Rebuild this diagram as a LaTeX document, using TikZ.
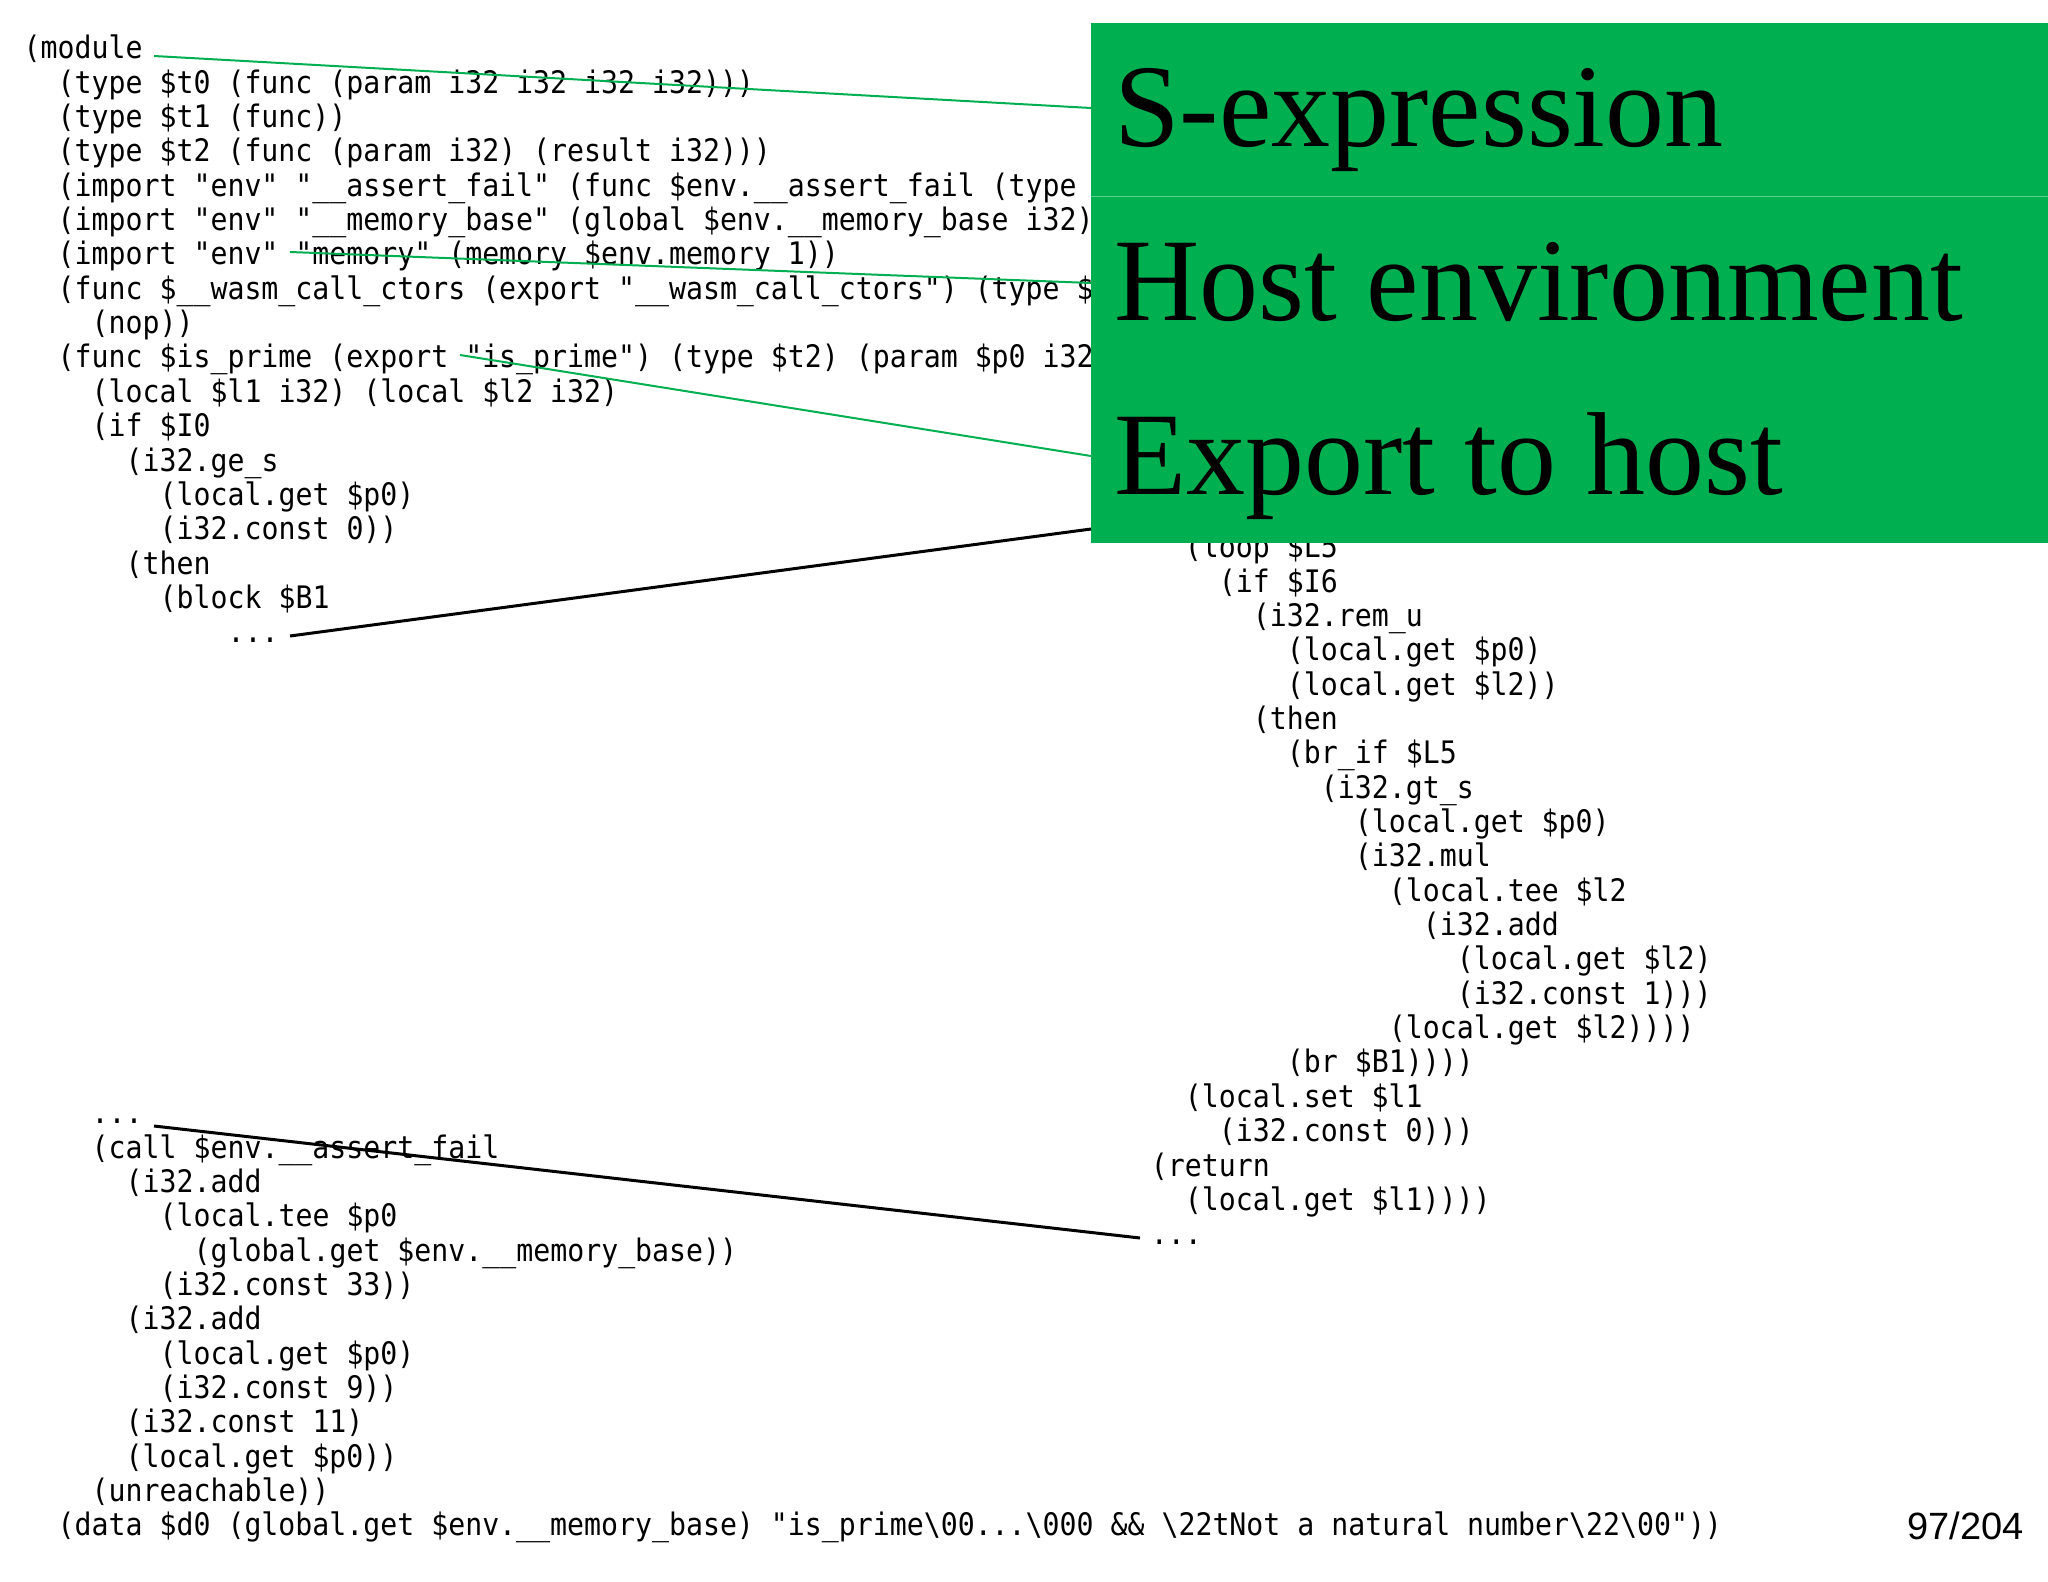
\documentclass[tikz,border=0pt]{standalone}
\usepackage{fontspec}
\newfontfamily\codefont[FakeStretch=0.91]{DejaVu Sans Mono}
\newfontfamily\serifbig{Liberation Serif}
\newfontfamily\pagefont{Liberation Sans}
\definecolor{boxgreen}{HTML}{00B050}
\definecolor{sepgreen}{HTML}{5FD08F}
\tikzset{
  code/.style={anchor=base west,inner sep=0pt,font=\codefont\fontsize{31}{37}\selectfont},
  title/.style={anchor=base west,inner sep=0pt,font=\serifbig\fontsize{118}{130}\selectfont},
  gline/.style={draw=boxgreen,line width=2pt},
  bline/.style={draw=black,line width=3pt}
}
\newcommand\codeL[4]{\node[code] (#1) at ({23.5+17*#2},{58.8+34.35*#3}) {#4};}
\newcommand\codeR[4]{\node[code] (#1) at ({1150.7+17*#2},{557.7+34.35*#3}) {#4};}
\begin{document}
\begin{tikzpicture}[x=1pt,y=-1pt]
\useasboundingbox (0,0) rectangle (2048,1582);
\codeL{a0}{0}{0}{(module}
\codeL{a1}{2}{1}{(type \$t0 (func (param i32 i32 i32 i32)))}
\codeL{a2}{2}{2}{(type \$t1 (func))}
\codeL{a3}{2}{3}{(type \$t2 (func (param i32) (result i32)))}
\codeL{a4}{2}{4}{(import "env" "\_\_assert\_fail" (func \$env.\_\_assert\_fail (type \$t0)))}
\codeL{a5}{2}{5}{(import "env" "\_\_memory\_base" (global \$env.\_\_memory\_base i32))}
\codeL{a6}{2}{6}{(import "env" "memory" (memory \$env.memory 1))}
\codeL{a7}{2}{7}{(func \$\_\_wasm\_call\_ctors (export "\_\_wasm\_call\_ctors") (type \$t1)}
\codeL{a8}{4}{8}{(nop))}
\codeL{a9}{2}{9}{(func \$is\_prime (export "is\_prime") (type \$t2) (param \$p0 i32) (result i32)}
\codeL{a10}{4}{10}{(local \$l1 i32) (local \$l2 i32)}
\codeL{a11}{4}{11}{(if \$I0}
\codeL{a12}{6}{12}{(i32.ge\_s}
\codeL{a13}{8}{13}{(local.get \$p0)}
\codeL{a14}{8}{14}{(i32.const 0))}
\codeL{a15}{6}{15}{(then}
\codeL{a16}{8}{16}{(block \$B1}
\codeL{a17}{12}{17}{...}
\codeL{a31}{4}{31}{...}
\codeL{a32}{4}{32}{(call \$env.\_\_assert\_fail}
\codeL{a33}{6}{33}{(i32.add}
\codeL{a34}{8}{34}{(local.tee \$p0}
\codeL{a35}{10}{35}{(global.get \$env.\_\_memory\_base))}
\codeL{a36}{8}{36}{(i32.const 33))}
\codeL{a37}{6}{37}{(i32.add}
\codeL{a38}{8}{38}{(local.get \$p0)}
\codeL{a39}{8}{39}{(i32.const 9))}
\codeL{a40}{6}{40}{(i32.const 11)}
\codeL{a41}{6}{41}{(local.get \$p0))}
\codeL{a42}{4}{42}{(unreachable))}
\codeL{a43}{2}{43}{(data \$d0 (global.get \$env.\_\_memory\_base) "is\_prime\textbackslash 00...\textbackslash 000 \&\& \textbackslash 22tNot a natural number\textbackslash 22\textbackslash 00"))}
\codeR{b0}{2}{0}{(loop \$L5}
\codeR{b1}{4}{1}{(if \$I6}
\codeR{b2}{6}{2}{(i32.rem\_u}
\codeR{b3}{8}{3}{(local.get \$p0)}
\codeR{b4}{8}{4}{(local.get \$l2))}
\codeR{b5}{6}{5}{(then}
\codeR{b6}{8}{6}{(br\_if \$L5}
\codeR{b7}{10}{7}{(i32.gt\_s}
\codeR{b8}{12}{8}{(local.get \$p0)}
\codeR{b9}{12}{9}{(i32.mul}
\codeR{b10}{14}{10}{(local.tee \$l2}
\codeR{b11}{16}{11}{(i32.add}
\codeR{b12}{18}{12}{(local.get \$l2)}
\codeR{b13}{18}{13}{(i32.const 1)))}
\codeR{b14}{14}{14}{(local.get \$l2))))}
\codeR{b15}{8}{15}{(br \$B1))))}
\codeR{b16}{2}{16}{(local.set \$l1}
\codeR{b17}{4}{17}{(i32.const 0)))}
\codeR{b18}{0}{18}{(return}
\codeR{b19}{2}{19}{(local.get \$l1))))}
\codeR{b20}{0}{20}{...}
% green box
\fill[boxgreen] (1091,23) rectangle (2048,543);
\draw[sepgreen,line width=1pt] (1091,196) -- (2048,196);
\node[title] (t1) at (1114,146) {S-expression};
\node[title] (t2) at (1114,320) {Host environment};
\node[title] (t3) at (1114,494) {Export to host};
% connectors
\coordinate (s1) at (154,56);   \coordinate (e1) at (1091,108);
\coordinate (s2) at (290,252);  \coordinate (e2) at (1091,283);
\coordinate (s3) at (460,355);  \coordinate (e3) at (1091,456);
\coordinate (s4) at (290,636);  \coordinate (e4) at (1091,529);
\coordinate (s5) at (154,1126); \coordinate (e5) at (1140,1238);
\draw[gline] (s1) -- (e1);
\draw[gline] (s2) -- (e2);
\draw[gline] (s3) -- (e3);
\draw[bline] (s4) -- (e4);
\draw[bline] (s5) -- (e5);
\node[anchor=base east,inner sep=0pt,font=\pagefont\fontsize{38}{44}\selectfont] (pg) at (2024,1539) {97/204};
\end{tikzpicture}
\end{document}
